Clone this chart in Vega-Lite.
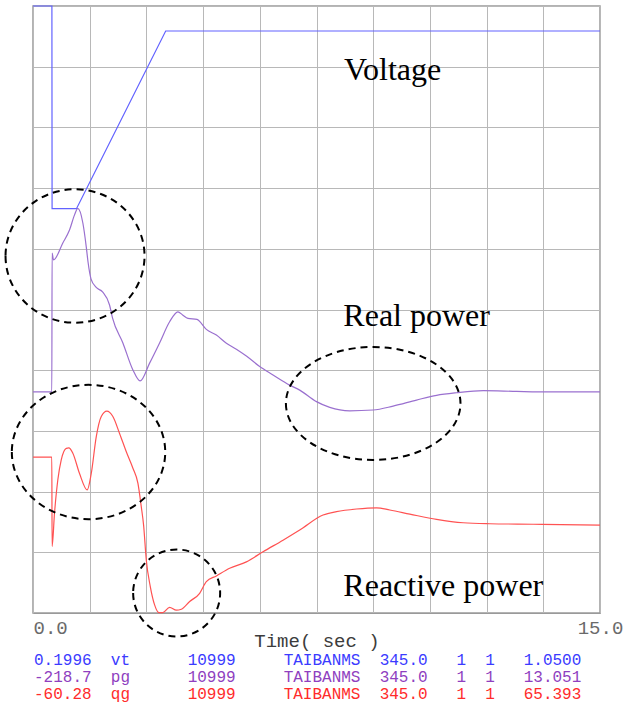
{
  "$schema": "https://vega.github.io/schema/vega-lite/v6.json",
  "width": 567,
  "height": 607,
  "autosize": {"type": "none"},
  "padding": {"left": 33, "top": 6, "right": 25, "bottom": 91},
  "background": "white",
  "config": {
    "view": {"stroke": "#9a9a9a", "strokeWidth": 1.5},
    "axis": {"gridColor": "#b8b8b8", "gridWidth": 1, "gridOpacity": 1}
  },
  "datasets": {
    "vt": [
      {"t": 0, "v": 1.05, "ch": "vt"},
      {"t": 0.5, "v": 1.05, "ch": "vt"},
      {"t": 0.505, "v": 0.766, "ch": "vt"},
      {"t": 1.15, "v": 0.766, "ch": "vt"},
      {"t": 3.51, "v": 1.015, "ch": "vt"},
      {"t": 15, "v": 1.015, "ch": "vt"}
    ],
    "pg": [
      {"t": 0, "v": -134.3, "ch": "pg"},
      {"t": 0.498, "v": -134.3, "ch": "pg"},
      {"t": 0.505, "v": -81.3, "ch": "pg"},
      {"t": 0.543, "v": -83.9, "ch": "pg"},
      {"t": 0.789, "v": -77.4, "ch": "pg"},
      {"t": 0.966, "v": -72.5, "ch": "pg"},
      {"t": 1.099, "v": -66.7, "ch": "pg"},
      {"t": 1.186, "v": -64.2, "ch": "pg"},
      {"t": 1.319, "v": -69.8, "ch": "pg"},
      {"t": 1.409, "v": -78.9, "ch": "pg"},
      {"t": 1.456, "v": -84.7, "ch": "pg"},
      {"t": 1.536, "v": -91.2, "ch": "pg"},
      {"t": 1.673, "v": -94.4, "ch": "pg"},
      {"t": 1.84, "v": -96.1, "ch": "pg"},
      {"t": 2.025, "v": -101.1, "ch": "pg"},
      {"t": 2.105, "v": -106.1, "ch": "pg"},
      {"t": 2.378, "v": -115.6, "ch": "pg"},
      {"t": 2.643, "v": -125.9, "ch": "pg"},
      {"t": 2.833, "v": -130.1, "ch": "pg"},
      {"t": 3.085, "v": -123.3, "ch": "pg"},
      {"t": 3.349, "v": -115.6, "ch": "pg"},
      {"t": 3.614, "v": -107.5, "ch": "pg"},
      {"t": 3.834, "v": -103.7, "ch": "pg"},
      {"t": 3.958, "v": -104.9, "ch": "pg"},
      {"t": 4.099, "v": -106.2, "ch": "pg"},
      {"t": 4.337, "v": -106.6, "ch": "pg"},
      {"t": 4.586, "v": -110.4, "ch": "pg"},
      {"t": 4.851, "v": -112.6, "ch": "pg"},
      {"t": 5.116, "v": -115.7, "ch": "pg"},
      {"t": 5.38, "v": -118.0, "ch": "pg"},
      {"t": 5.645, "v": -120.6, "ch": "pg"},
      {"t": 5.997, "v": -124.6, "ch": "pg"},
      {"t": 6.35, "v": -127.8, "ch": "pg"},
      {"t": 6.792, "v": -131.7, "ch": "pg"},
      {"t": 7.056, "v": -133.6, "ch": "pg"},
      {"t": 7.499, "v": -138.0, "ch": "pg"},
      {"t": 7.851, "v": -140.2, "ch": "pg"},
      {"t": 8.38, "v": -141.5, "ch": "pg"},
      {"t": 8.997, "v": -141.2, "ch": "pg"},
      {"t": 9.527, "v": -139.7, "ch": "pg"},
      {"t": 10.146, "v": -137.4, "ch": "pg"},
      {"t": 10.676, "v": -135.6, "ch": "pg"},
      {"t": 11.206, "v": -134.6, "ch": "pg"},
      {"t": 11.91, "v": -133.8, "ch": "pg"},
      {"t": 12.794, "v": -134.1, "ch": "pg"},
      {"t": 13.676, "v": -134.3, "ch": "pg"},
      {"t": 15, "v": -134.3, "ch": "pg"}
    ],
    "qg": [
      {"t": 0, "v": -28.0, "ch": "qg"},
      {"t": 0.498, "v": -28.0, "ch": "qg"},
      {"t": 0.505, "v": -46.5, "ch": "qg"},
      {"t": 0.569, "v": -39.6, "ch": "qg"},
      {"t": 0.657, "v": -32.7, "ch": "qg"},
      {"t": 0.747, "v": -28.6, "ch": "qg"},
      {"t": 0.879, "v": -26.2, "ch": "qg"},
      {"t": 0.948, "v": -26.1, "ch": "qg"},
      {"t": 1.054, "v": -27.2, "ch": "qg"},
      {"t": 1.231, "v": -31.4, "ch": "qg"},
      {"t": 1.435, "v": -34.8, "ch": "qg"},
      {"t": 1.541, "v": -31.4, "ch": "qg"},
      {"t": 1.673, "v": -23.8, "ch": "qg"},
      {"t": 1.806, "v": -19.6, "ch": "qg"},
      {"t": 1.954, "v": -18.5, "ch": "qg"},
      {"t": 2.113, "v": -19.6, "ch": "qg"},
      {"t": 2.29, "v": -23.1, "ch": "qg"},
      {"t": 2.468, "v": -26.9, "ch": "qg"},
      {"t": 2.643, "v": -30.3, "ch": "qg"},
      {"t": 2.775, "v": -33.4, "ch": "qg"},
      {"t": 2.865, "v": -38.3, "ch": "qg"},
      {"t": 2.926, "v": -42.1, "ch": "qg"},
      {"t": 2.997, "v": -49.3, "ch": "qg"},
      {"t": 3.103, "v": -54.8, "ch": "qg"},
      {"t": 3.217, "v": -58.6, "ch": "qg"},
      {"t": 3.331, "v": -60.2, "ch": "qg"},
      {"t": 3.437, "v": -60.2, "ch": "qg"},
      {"t": 3.614, "v": -59.1, "ch": "qg"},
      {"t": 3.792, "v": -59.7, "ch": "qg"},
      {"t": 3.924, "v": -59.5, "ch": "qg"},
      {"t": 4.144, "v": -57.9, "ch": "qg"},
      {"t": 4.409, "v": -56.2, "ch": "qg"},
      {"t": 4.586, "v": -53.8, "ch": "qg"},
      {"t": 4.851, "v": -52.6, "ch": "qg"},
      {"t": 5.203, "v": -51.0, "ch": "qg"},
      {"t": 5.645, "v": -49.7, "ch": "qg"},
      {"t": 6.085, "v": -47.6, "ch": "qg"},
      {"t": 6.614, "v": -45.2, "ch": "qg"},
      {"t": 7.056, "v": -43.1, "ch": "qg"},
      {"t": 7.673, "v": -40.0, "ch": "qg"},
      {"t": 8.028, "v": -39.3, "ch": "qg"},
      {"t": 8.558, "v": -38.75, "ch": "qg"},
      {"t": 9.087, "v": -38.5, "ch": "qg"},
      {"t": 9.44, "v": -38.95, "ch": "qg"},
      {"t": 9.969, "v": -39.8, "ch": "qg"},
      {"t": 10.676, "v": -40.9, "ch": "qg"},
      {"t": 11.38, "v": -41.6, "ch": "qg"},
      {"t": 12.087, "v": -41.8, "ch": "qg"},
      {"t": 13.234, "v": -41.9, "ch": "qg"},
      {"t": 15, "v": -42.1, "ch": "qg"}
    ]
  },
  "encoding": {
    "x": {
      "field": "t",
      "type": "quantitative",
      "scale": {"domain": [0, 15], "nice": false, "zero": false},
      "axis": {
        "values": [0, 1.5, 3, 4.5, 6, 7.5, 9, 10.5, 12, 13.5, 15],
        "labelExpr": "datum.value == 0 ? '0.0' : datum.value == 15 ? '15.0' : ''",
        "labelAlign": {"condition": {"test": "datum.value == 0", "value": "left"}, "value": "center"},
        "labelOverlap": false,
        "ticks": false,
        "grid": true,
        "domainColor": "#9a9a9a",
        "labelFont": "Liberation Mono",
        "labelFontSize": 19,
        "labelColor": "#6a6a6a",
        "labelPadding": 5,
        "title": "Time( sec )",
        "titleFont": "Liberation Mono",
        "titleFontSize": 19,
        "titleFontWeight": "normal",
        "titleColor": "#3c3c3c",
        "titlePadding": -6
      }
    }
  },
  "layer": [
    {
      "data": {"name": "vt"},
      "mark": {"type": "line", "strokeWidth": 1.2},
      "encoding": {
        "y": {
          "field": "v",
          "type": "quantitative",
          "scale": {"domain": [0.1996, 1.05], "nice": false, "zero": false},
          "axis": {
            "values": [0.1996, 0.28464, 0.36968, 0.45472, 0.53976, 0.6248, 0.70984, 0.79488, 0.87992, 0.96496, 1.05],
            "grid": true, "labels": false, "ticks": false, "domain": false, "title": null
          }
        },
        "color": {
          "field": "ch",
          "type": "nominal",
          "scale": {"domain": ["vt", "pg", "qg"], "range": ["#6262ff", "#9a70cf", "#ff5252"]},
          "legend": {
            "orient": "none",
            "legendX": -15,
            "legendY": 646,
            "padding": 0,
            "title": null,
            "labelExpr": "datum.label == 'vt' ? '0.1996\u00a0\u00a0vt\u00a0\u00a0\u00a0\u00a0\u00a0\u00a010999\u00a0\u00a0\u00a0\u00a0\u00a0TAIBANMS\u00a0\u00a0345.0\u00a0\u00a0\u00a01\u00a0\u00a01\u00a0\u00a0\u00a01.0500' : datum.label == 'pg' ? '-218.7\u00a0\u00a0pg\u00a0\u00a0\u00a0\u00a0\u00a0\u00a010999\u00a0\u00a0\u00a0\u00a0\u00a0TAIBANMS\u00a0\u00a0345.0\u00a0\u00a0\u00a01\u00a0\u00a01\u00a0\u00a0\u00a013.051' : '-60.28\u00a0\u00a0qg\u00a0\u00a0\u00a0\u00a0\u00a0\u00a010999\u00a0\u00a0\u00a0\u00a0\u00a0TAIBANMS\u00a0\u00a0345.0\u00a0\u00a0\u00a01\u00a0\u00a01\u00a0\u00a0\u00a065.393'",
            "labelColor": {"expr": "datum.value == 'vt' ? '#3b3bff' : datum.value == 'pg' ? '#8f3fbf' : '#ff2b2b'"},
            "labelFont": "Liberation Mono",
            "labelFontSize": 16,
            "labelLimit": 0,
            "labelOffset": 0,
            "symbolSize": 0,
            "symbolOpacity": 0,
            "symbolStrokeWidth": 0,
            "rowPadding": 1
          }
        }
      }
    },
    {
      "data": {"name": "pg"},
      "mark": {"type": "line", "strokeWidth": 1.2, "interpolate": "monotone"},
      "encoding": {
        "y": {"field": "v", "type": "quantitative", "scale": {"domain": [-218.7, 13.051], "nice": false, "zero": false}, "axis": null},
        "color": {"field": "ch", "type": "nominal"}
      }
    },
    {
      "data": {"name": "qg"},
      "mark": {"type": "line", "strokeWidth": 1.2, "interpolate": "monotone"},
      "encoding": {
        "y": {"field": "v", "type": "quantitative", "scale": {"domain": [-60.28, 65.393], "nice": false, "zero": false}, "axis": null},
        "color": {"field": "ch", "type": "nominal"}
      }
    },
    {
      "data": {"values": [{"t": 8.23, "v": 0.947, "label": "Voltage"}]},
      "mark": {"type": "text", "align": "left", "baseline": "alphabetic", "font": "Liberation Serif", "fontSize": 32, "color": "black"},
      "encoding": {
        "y": {"field": "v", "type": "quantitative", "scale": {"domain": [0.1996, 1.05], "nice": false, "zero": false}, "axis": null},
        "text": {"field": "label"}
      }
    },
    {
      "data": {"values": [{"t": 8.21, "v": -109.1, "label": "Real power"}]},
      "mark": {"type": "text", "align": "left", "baseline": "alphabetic", "font": "Liberation Serif", "fontSize": 32, "color": "black"},
      "encoding": {
        "y": {"field": "v", "type": "quantitative", "scale": {"domain": [-218.7, 13.051], "nice": false, "zero": false}, "axis": null},
        "text": {"field": "label"}
      }
    },
    {
      "data": {"values": [{"t": 8.21, "v": -56.7, "label": "Reactive power"}]},
      "mark": {"type": "text", "align": "left", "baseline": "alphabetic", "font": "Liberation Serif", "fontSize": 32, "color": "black"},
      "encoding": {
        "y": {"field": "v", "type": "quantitative", "scale": {"domain": [-60.28, 65.393], "nice": false, "zero": false}, "axis": null},
        "text": {"field": "label"}
      }
    },
    {
      "data": {"values": [{"t": 1.112, "v": -82.4, "note": "peak"}]},
      "mark": {"type": "point", "shape": "M-1,0A1,0.96,0,1,0,1,0A1,0.96,0,1,0,-1,0Z", "size": 19321, "filled": false, "stroke": "black", "strokeWidth": 2, "strokeDash": [7, 5], "opacity": 1},
      "encoding": {
        "y": {"field": "v", "type": "quantitative", "scale": {"domain": [-218.7, 13.051], "nice": false, "zero": false}, "axis": null}
      }
    },
    {
      "data": {"values": [{"t": 9.0, "v": -138.7, "note": "settle"}]},
      "mark": {"type": "point", "shape": "M-1,0A1,0.647,0,1,0,1,0A1,0.647,0,1,0,-1,0Z", "size": 30485, "filled": false, "stroke": "black", "strokeWidth": 2, "strokeDash": [7, 5], "opacity": 1},
      "encoding": {
        "y": {"field": "v", "type": "quantitative", "scale": {"domain": [-218.7, 13.051], "nice": false, "zero": false}, "axis": null}
      }
    },
    {
      "data": {"values": [{"t": 1.469, "v": -26.95, "note": "oscillation"}]},
      "mark": {"type": "point", "shape": "M-1,0A1,0.876,0,1,0,1,0A1,0.876,0,1,0,-1,0Z", "size": 23531, "filled": false, "stroke": "black", "strokeWidth": 2, "strokeDash": [7, 5], "opacity": 1},
      "encoding": {
        "y": {"field": "v", "type": "quantitative", "scale": {"domain": [-60.28, 65.393], "nice": false, "zero": false}, "axis": null}
      }
    },
    {
      "data": {"values": [{"t": 3.8, "v": -56.14, "note": "dip"}]},
      "mark": {"type": "point", "shape": "M-1,0A1,1,0,1,0,1,0A1,1,0,1,0,-1,0Z", "size": 7569, "filled": false, "stroke": "black", "strokeWidth": 2, "strokeDash": [7, 5], "opacity": 1},
      "encoding": {
        "y": {"field": "v", "type": "quantitative", "scale": {"domain": [-60.28, 65.393], "nice": false, "zero": false}, "axis": null}
      }
    }
  ],
  "resolve": {"scale": {"y": "independent"}, "axis": {"y": "independent"}}
}
